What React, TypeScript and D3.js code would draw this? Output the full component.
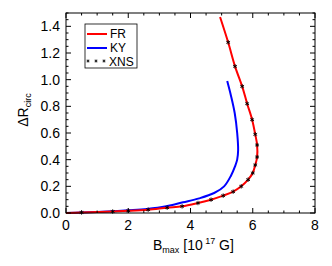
import * as d3 from "d3";
import React from "react";

const WIDTH = 332;
const HEIGHT = 266;
const MARGIN = { top: 13, right: 17, bottom: 53, left: 66 };

// FR curve (red) : B_max vs dR
const frX = [0, 0.5, 1.0, 1.5, 2.0, 2.64, 3.25, 3.73, 4.24, 4.66, 5.05, 5.37, 5.63, 5.85, 6.0, 6.08, 6.14, 6.14, 6.08, 5.98, 5.82, 5.66, 5.43, 5.21, 4.95];
const frY = [0, 0.004, 0.007, 0.011, 0.016, 0.025, 0.04, 0.05, 0.075, 0.1, 0.13, 0.16, 0.2, 0.25, 0.3, 0.36, 0.42, 0.51, 0.59, 0.7, 0.82, 0.95, 1.1, 1.28, 1.47];

// KY curve (blue)
const kyX = [0, 0.5, 1.0, 1.5, 2.0, 2.6, 3.22, 3.76, 4.28, 4.76, 5.08, 5.3, 5.43, 5.5, 5.53, 5.5, 5.42, 5.3, 5.18];
const kyY = [0, 0.004, 0.008, 0.013, 0.02, 0.03, 0.05, 0.08, 0.11, 0.15, 0.2, 0.28, 0.35, 0.4, 0.47, 0.6, 0.75, 0.88, 0.99];

// XNS points (stars)
const xnsX = [0.5, 1.5, 2.0, 2.64, 3.25, 3.73, 4.24, 4.66, 5.05, 5.37, 5.63, 5.85, 6.0, 6.08, 6.14, 6.14, 6.08, 5.98, 5.82, 5.66, 5.43, 5.21];
const xnsY = [0.004, 0.011, 0.016, 0.025, 0.04, 0.05, 0.075, 0.1, 0.13, 0.16, 0.2, 0.25, 0.3, 0.36, 0.42, 0.51, 0.59, 0.7, 0.82, 0.95, 1.1, 1.28];

const xTicks = [0, 2, 4, 6, 8];
const yTicks = [0, 0.2, 0.4, 0.6, 0.8, 1.0, 1.2, 1.4];

const FONT = "'Liberation Sans', Arial, sans-serif";

// little asterisk drawn as 3 crossing strokes
const starPath = (cx: number, cy: number, r: number) => {
    let d = "";
    for (let k = 0; k < 3; k++) {
        const a = (Math.PI / 3) * k + Math.PI / 2;
        const dx = Math.cos(a) * r;
        const dy = Math.sin(a) * r;
        d += `M${cx - dx},${cy - dy}L${cx + dx},${cy + dy}`;
    }
    return d;
};

const App: React.FC = () => {
    const boundsWidth = WIDTH - MARGIN.left - MARGIN.right;
    const boundsHeight = HEIGHT - MARGIN.top - MARGIN.bottom;

    const xScale = d3.scaleLinear().domain([0, 8]).range([0, boundsWidth]);
    const yScale = d3.scaleLinear().domain([0, 1.5]).range([boundsHeight, 0]);

    const lineGen = d3.line().curve(d3.curveCatmullRom);
    const frPath = lineGen(frX.map((x, i) => [xScale(x), yScale(frY[i])] as [number, number])) || "";
    const kyPath = lineGen(kyX.map((x, i) => [xScale(x), yScale(kyY[i])] as [number, number])) || "";

    const xMinor = d3.range(0, 8.001, 0.5);
    const yMinor = d3.range(0, 1.5001, 0.05);

    return (
        <svg width={WIDTH} height={HEIGHT} style={{ position: "absolute", left: 0, top: 0 }}>
            <rect width={WIDTH} height={HEIGHT} fill="#fff" />
            <g transform={`translate(${MARGIN.left},${MARGIN.top})`}>
                <path d={kyPath} fill="none" stroke="#0000ff" strokeWidth={2} />
                <path d={frPath} fill="none" stroke="#ff0000" strokeWidth={2} />
                <path
                    d={xnsX.map((x, i) => starPath(xScale(x), yScale(xnsY[i]), 2.2)).join("")}
                    stroke="#000"
                    strokeWidth={0.9}
                    fill="none"
                />

                {/* frame */}
                <rect width={boundsWidth} height={boundsHeight} fill="none" stroke="#000" strokeWidth={1} />

                {xMinor.map((v, i) => {
                    const major = Math.abs(v - Math.round(v / 2) * 2) < 1e-6;
                    const len = major ? 5 : 2.5;
                    const x = xScale(v);
                    return (
                        <g key={"xt" + i}>
                            <line x1={x} x2={x} y1={boundsHeight} y2={boundsHeight - len} stroke="#000" />
                            <line x1={x} x2={x} y1={0} y2={len} stroke="#000" />
                        </g>
                    );
                })}
                {yMinor.map((v, i) => {
                    const major = Math.abs(v * 5 - Math.round(v * 5)) < 1e-6;
                    const len = major ? 5 : 2.5;
                    const y = yScale(v);
                    return (
                        <g key={"yt" + i}>
                            <line x1={0} x2={len} y1={y} y2={y} stroke="#000" />
                            <line x1={boundsWidth} x2={boundsWidth - len} y1={y} y2={y} stroke="#000" />
                        </g>
                    );
                })}

                {xTicks.map((t) => (
                    <text
                        key={"xl" + t}
                        x={xScale(t)}
                        y={boundsHeight + 17}
                        textAnchor="middle"
                        fontSize={14}
                        fontFamily={FONT}
                    >
                        {t}
                    </text>
                ))}
                {yTicks.map((t) => (
                    <text
                        key={"yl" + t}
                        x={-6}
                        y={yScale(t) + 5}
                        textAnchor="end"
                        fontSize={14}
                        fontFamily={FONT}
                    >
                        {t.toFixed(1)}
                    </text>
                ))}

                {/* legend */}
                <rect x={19} y={11} width={52} height={44} fill="#fff" stroke="#000" strokeWidth={0.8} />
                <line x1={21} x2={41} y1={21} y2={21} stroke="#ff0000" strokeWidth={2} />
                <text x={44} y={25} fontSize={12} fontFamily={FONT}>FR</text>
                <line x1={21} x2={41} y1={35} y2={35} stroke="#0000ff" strokeWidth={2} />
                <text x={44} y={39} fontSize={12} fontFamily={FONT}>KY</text>
                <path d={[22, 30, 38].map((x) => starPath(x, 48, 1.6)).join("")} stroke="#000" strokeWidth={0.8} fill="none" />
                <text x={43} y={53} fontSize={12} fontFamily={FONT}>XNS</text>
            </g>

            {/* axis titles */}
            <text x={153} y={250} fontSize={14} fontFamily={FONT}>
                B<tspan fontSize={9} dy={3}>max</tspan>
                <tspan dy={-3}> [10</tspan>
                <tspan fontSize={9} dy={-6}> 17</tspan>
                <tspan dy={6}> G]</tspan>
            </text>
            <text transform="translate(28,110) rotate(-90)" textAnchor="middle" fontSize={14} fontFamily={FONT}>
                ΔR<tspan fontSize={9} dy={3}>circ</tspan>
            </text>
        </svg>
    );
};

export default App;
